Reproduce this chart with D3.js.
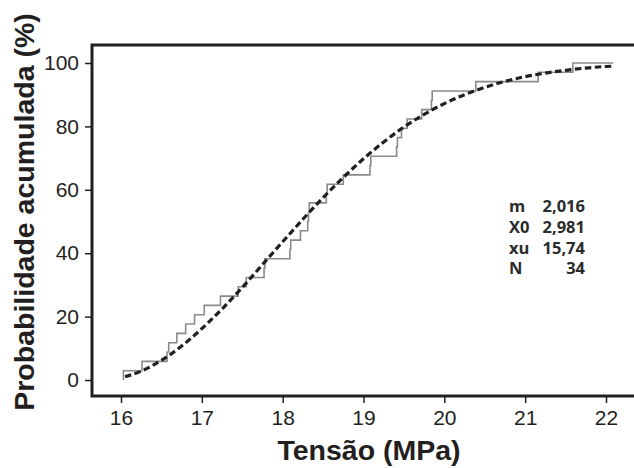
<!DOCTYPE html>
<html>
<head>
<meta charset="utf-8">
<script src="https://cdn.jsdelivr.net/npm/d3@7"></script>
<style>
  html, body { margin: 0; padding: 0; background: #fff; }
  svg text { font-family: "Liberation Sans", Arial, sans-serif; }
</style>
</head>
<body>
<div id="chart"></div>
<script>
// dados lidos do gráfico
// tensões ordenadas (MPa) onde a curva empírica sobe um degrau (N = 34)
var tensoes = [16.03, 16.26, 16.57, 16.59, 16.69, 16.80, 16.91, 17.03, 17.23, 17.45,
               17.55, 17.77, 17.78, 18.09, 18.10, 18.22, 18.31, 18.32, 18.33, 18.54,
               18.55, 18.75, 19.08, 19.09, 19.41, 19.42, 19.47, 19.54, 19.72, 19.84,
               19.85, 20.39, 21.16, 21.59];
var tensaoFim = 22.09;

// curva ajustada (tracejada)
var ajusteX = [16.05, 16.25, 16.5, 16.75, 17, 17.25, 17.5, 17.75, 18, 18.25, 18.5, 18.75,
               19, 19.25, 19.5, 19.75, 20, 20.25, 20.5, 20.75, 21, 21.25, 21.5, 21.75, 22, 22.09];
var ajusteY = [1.0, 2.8, 6.2, 10.7, 16.2, 22.4, 29.2, 36.4, 43.6, 50.7, 57.5, 63.9,
               69.8, 75.1, 79.8, 83.8, 87.2, 90.0, 92.3, 94.2, 95.7, 96.8, 97.7, 98.4, 98.9, 99.0];

var xTicks = [16, 17, 18, 19, 20, 21, 22];
var yTicks = [0, 20, 40, 60, 80, 100];

var paramNomes = ["m", "X0", "xu", "N"];
var paramValores = ["2,016", "2,981", "15,74", "34"];

var width = 634, height = 468;

var svg = d3.select("#chart").append("svg")
    .attr("width", width)
    .attr("height", height);

var x = d3.scaleLinear().domain([16, 22]).range([121, 606]);
var y = d3.scaleLinear().domain([0, 100]).range([380, 63]);

// limites da moldura
var frameLeft = 92, frameTop = 45, frameBottom = 396;

// moldura (aberta à direita)
svg.append("path")
    .attr("d", "M" + width + "," + frameTop + "H" + frameLeft + "V" + frameBottom + "H" + width)
    .attr("fill", "none")
    .attr("stroke", "#231f20")
    .attr("stroke-width", 3);

// eixo x
var gx = svg.append("g")
    .attr("transform", "translate(0," + (frameBottom + 1) + ")")
    .call(d3.axisBottom(x).tickValues(xTicks).tickSize(6).tickPadding(7).tickFormat(d3.format("d")));
gx.select(".domain").remove();
gx.selectAll("line").attr("stroke", "#231f20").attr("stroke-width", 1.5);
gx.selectAll("text").attr("font-size", 21).attr("fill", "#231f20")
    .style("font-family", "'Liberation Sans', Arial, sans-serif");

// eixo y
var gy = svg.append("g")
    .attr("transform", "translate(" + (frameLeft - 1) + ",0)")
    .call(d3.axisLeft(y).tickValues(yTicks).tickSize(6).tickPadding(6));
gy.select(".domain").remove();
gy.selectAll("line").attr("stroke", "#231f20").attr("stroke-width", 1.5);
gy.selectAll("text").attr("font-size", 21).attr("fill", "#231f20")
    .style("font-family", "'Liberation Sans', Arial, sans-serif");

// curva empírica em degraus
var n = tensoes.length;
var pontos = [[tensoes[0], 0]];
tensoes.forEach(function(t, i) {
    pontos.push([t, (i + 1) / n * 100]);
});
pontos.push([tensaoFim, 100]);

var linhaDegrau = d3.line()
    .x(function(d) { return x(d[0]); })
    .y(function(d) { return y(d[1]); })
    .curve(d3.curveStepAfter);

svg.append("path")
    .datum(pontos)
    .attr("d", linhaDegrau)
    .attr("fill", "none")
    .attr("stroke", "#8a8a8a")
    .attr("stroke-width", 1.6);

// curva ajustada tracejada
var linhaAjuste = d3.line()
    .x(function(d, i) { return x(ajusteX[i]); })
    .y(function(d) { return y(d); })
    .curve(d3.curveMonotoneX);

svg.append("path")
    .datum(ajusteY)
    .attr("d", linhaAjuste)
    .attr("fill", "none")
    .attr("stroke", "#231f20")
    .attr("stroke-width", 3.2)
    .attr("stroke-dasharray", "6.5,3.5");

// parâmetros
var param = svg.append("g")
    .attr("font-size", 16.5)
    .attr("font-weight", "bold")
    .attr("fill", "#2b2b2b");

paramNomes.forEach(function(nome, i) {
    param.append("text")
        .attr("x", 509)
        .attr("y", 212 + i * 20.8)
        .style("font-family", "'Open Sans', 'Noto Sans', sans-serif")
        .text(nome);
    param.append("text")
        .attr("x", 585)
        .attr("y", 212 + i * 20.8)
        .attr("text-anchor", "end")
        .style("font-family", "'Open Sans', 'Noto Sans', sans-serif")
        .text(paramValores[i]);
});

// títulos dos eixos
svg.append("text")
    .attr("x", 369)
    .attr("y", 460)
    .attr("text-anchor", "middle")
    .attr("font-size", 28.5)
    .attr("font-weight", "bold")
    .attr("fill", "#231f20")
    .text("Tensão (MPa)");

svg.append("text")
    .attr("transform", "translate(34,212) rotate(-90)")
    .attr("text-anchor", "middle")
    .attr("font-size", 28.5)
    .attr("font-weight", "bold")
    .attr("fill", "#231f20")
    .text("Probabilidade acumulada (%)");
</script>
</body>
</html>
